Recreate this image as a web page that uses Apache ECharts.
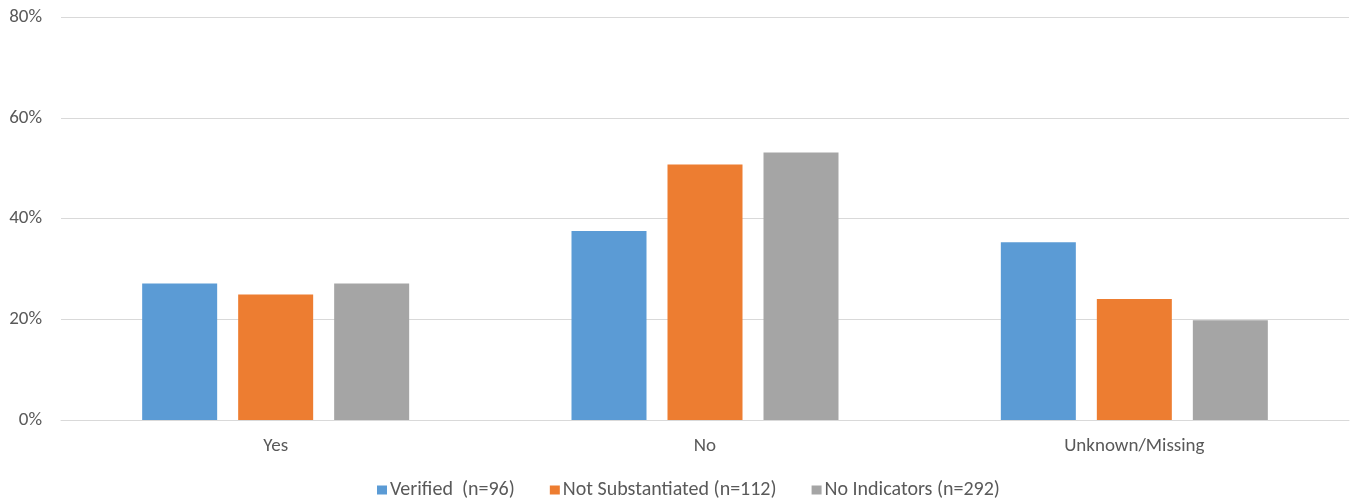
<!DOCTYPE html>
<html>
<head>
<meta charset="utf-8">
<script src="https://cdn.jsdelivr.net/npm/echarts@6/dist/echarts.min.js"></script>
<style>
  html, body { margin: 0; padding: 0; background: #fff; }
  #chart { width: 1351px; height: 504px; }
</style>
</head>
<body>
<div id="chart"></div>
<script>
// categories and values (percent)
var categories = ['Yes', 'No', 'Unknown/Missing']
var verified = [27.1, 37.5, 35.3]
var notSubstantiated = [24.9, 50.7, 24.0]
var noIndicators = [27.1, 53.1, 19.8]
var seriesNames = ['Verified  (n=96)', 'Not Substantiated (n=112)', 'No Indicators (n=292)']
var yTicks = [0, 20, 40, 60, 80]

var font = 'Carlito, "Liberation Sans Narrow", "DejaVu Sans Condensed", "Noto Sans", sans-serif'

var chart = echarts.init(document.getElementById('chart'))
var option = {
  animation: false,
  color: ['#5b9bd5', '#ed7d31', '#a5a5a5'],
  textStyle: { fontFamily: font },
  grid: { left: 61, right: 2, top: 17, bottom: 84, containLabel: false },
  legend: {
    top: 480,
    left: 377,
    padding: 0,
    itemWidth: 10,
    itemHeight: 9,
    itemGap: 35,
    icon: 'rect',
    textStyle: { color: '#595959', fontSize: 20, fontFamily: font, padding: [0, 0, 0, -2] },
    data: seriesNames
  },
  xAxis: {
    type: 'category',
    data: categories,
    axisLine: { lineStyle: { color: '#d9d9d9', width: 1 } },
    axisTick: { show: false },
    axisLabel: { color: '#595959', fontSize: 19, margin: 17 }
  },
  yAxis: {
    type: 'value',
    min: yTicks[0],
    max: yTicks[yTicks.length - 1],
    interval: 20,
    axisLine: { show: false },
    axisTick: { show: false },
    splitLine: { lineStyle: { color: '#d9d9d9', width: 1 } },
    axisLabel: {
      color: '#595959',
      fontSize: 19,
      margin: 19,
      formatter: function (v) { return v + '%' }
    }
  },
  series: [
    { name: seriesNames[0], type: 'bar', data: verified, barWidth: 75, barGap: '28%' },
    { name: seriesNames[1], type: 'bar', data: notSubstantiated, barWidth: 75, barGap: '28%' },
    { name: seriesNames[2], type: 'bar', data: noIndicators, barWidth: 75, barGap: '28%' }
  ]
}
chart.setOption(option)
</script>
</body>
</html>
